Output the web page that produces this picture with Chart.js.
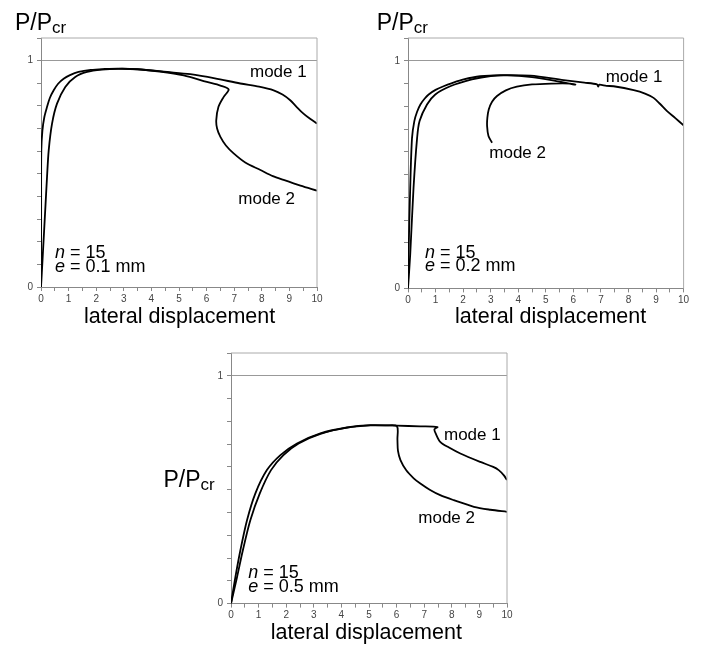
<!DOCTYPE html>
<html>
<head>
<meta charset="utf-8">
<script src="https://cdn.jsdelivr.net/npm/chart.js@4.4.1/dist/chart.umd.min.js"></script>
<style>
  body { margin: 0; background: #fff; }
  #page { position: relative; width: 704px; height: 645px; overflow: hidden;
          font-family: "Liberation Sans", Arial, sans-serif; color: #000; }
  canvas { position: absolute; }
  .t { position: absolute; white-space: nowrap; line-height: 1; }
  .t i { font-style: italic; }
</style>
</head>
<body>
<div id="page">
  <canvas id="c1"></canvas>
  <canvas id="c2"></canvas>
  <canvas id="c3"></canvas>
</div>
<script>
// e = 0.1 mm
const p1Mode1X = [0, 0.005, 0.01, 0.05, 0.12, 0.22, 0.32, 0.46, 0.62, 0.82, 1.05, 1.36, 1.8, 2.3, 2.8, 3.5, 4.57, 5.41, 6.3, 7.22, 7.9, 8.43, 8.75, 9.03, 9.25, 9.51, 9.75, 10];
const p1Mode1Y = [0, 0.3, 0.6, 0.69, 0.75, 0.796, 0.835, 0.869, 0.898, 0.92, 0.936, 0.95, 0.959, 0.963, 0.965, 0.962, 0.95, 0.94, 0.922, 0.899, 0.885, 0.869, 0.85, 0.825, 0.797, 0.766, 0.743, 0.722];
const p1Mode2X = [0, 0.03, 0.1, 0.16, 0.22, 0.28, 0.4, 0.58, 0.88, 1.24, 1.67, 2.2, 2.8, 3.5, 4.3, 5.17, 6.01, 6.5, 6.8, 6.62, 6.43, 6.35, 6.38, 6.5, 6.7, 6.98, 7.4, 7.95, 8.4, 8.79, 9.4, 10];
const p1Mode2Y = [0, 0.063, 0.22, 0.355, 0.49, 0.605, 0.722, 0.81, 0.884, 0.928, 0.95, 0.96, 0.964, 0.962, 0.952, 0.935, 0.906, 0.89, 0.873, 0.84, 0.796, 0.737, 0.7, 0.663, 0.625, 0.59, 0.55, 0.517, 0.49, 0.473, 0.448, 0.426];

// e = 0.2 mm
const p2Mode1X = [0, 0.02, 0.08, 0.145, 0.23, 0.33, 0.45, 0.6, 0.75, 1.0, 1.29, 1.6, 2.02, 2.62, 3.35, 4.44, 5.65, 6.4, 6.86, 6.9, 6.94, 7.2, 7.46, 8.19, 8.6, 8.91, 9.15, 9.4, 9.7, 10];
const p2Mode1Y = [0, 0.148, 0.44, 0.66, 0.735, 0.776, 0.808, 0.833, 0.852, 0.872, 0.888, 0.902, 0.918, 0.932, 0.937, 0.935, 0.915, 0.904, 0.896, 0.886, 0.895, 0.89, 0.888, 0.871, 0.856, 0.837, 0.81, 0.779, 0.748, 0.716];
const p2Mode2X = [0, 0.08, 0.2, 0.33, 0.42, 0.69, 0.99, 1.53, 2.32, 3.0, 3.6, 4.5, 5.3, 6.07, 5.89, 5.2, 4.5, 3.95, 3.55, 3.23, 3.05, 2.93, 2.88, 2.87, 2.92, 3.05];
const p2Mode2Y = [0, 0.148, 0.44, 0.66, 0.735, 0.808, 0.852, 0.888, 0.918, 0.933, 0.936, 0.928, 0.913, 0.895, 0.9, 0.9, 0.896, 0.886, 0.87, 0.845, 0.82, 0.786, 0.75, 0.713, 0.67, 0.64];

// e = 0.5 mm
const p3Mode1X = [0, 0.16, 0.34, 0.58, 0.88, 1.3, 1.79, 2.39, 3.24, 4.2, 5.05, 6.0, 6.86, 7.48, 7.37, 7.42, 7.58, 7.9, 8.31, 9.03, 9.5, 9.7, 9.88, 10];
const p3Mode1Y = [0, 0.117, 0.234, 0.366, 0.483, 0.586, 0.652, 0.703, 0.747, 0.773, 0.783, 0.781, 0.778, 0.775, 0.765, 0.746, 0.71, 0.685, 0.659, 0.622, 0.6, 0.586, 0.564, 0.542];
const p3Mode2X = [0, 0.22, 0.43, 0.7, 1.04, 1.45, 1.9, 2.45, 3.24, 4.2, 5.05, 5.6, 6.01, 6.03, 6.05, 6.14, 6.35, 6.62, 6.86, 7.2, 7.58, 8.07, 8.8, 9.4, 10];
const p3Mode2Y = [0, 0.117, 0.234, 0.366, 0.483, 0.586, 0.652, 0.703, 0.745, 0.772, 0.782, 0.782, 0.779, 0.72, 0.67, 0.63, 0.585, 0.55, 0.527, 0.5, 0.476, 0.454, 0.425, 0.412, 0.403];

const xTicks = [0, 1, 2, 3, 4, 5, 6, 7, 8, 9, 10];
const yTicks = [0, 1];

const pts = (xs, ys) => xs.map((x, i) => ({ x, y: ys[i] }));

// top and right edge of the box
const frame = {
  id: "frame",
  afterDraw(chart) {
    const { ctx, chartArea: a } = chart;
    ctx.save();
    ctx.strokeStyle = "#aaa";
    ctx.lineWidth = 1;
    ctx.beginPath();
    ctx.moveTo(a.left, a.top);
    ctx.lineTo(a.right, a.top);
    ctx.lineTo(a.right, a.bottom);
    ctx.stroke();
    ctx.restore();
  },
};

const near = (v, list) => list.some((t) => Math.abs(v - t) < 1e-6);
const tickFont = { family: "'Liberation Sans', Arial, sans-serif", size: 10 };

function panel(id, box, curves) {
  const [L, T, R, B] = box;
  const canvas = document.getElementById(id);
  const w = Math.ceil(R - L + 54);
  const h = Math.ceil(B - T + 32);
  canvas.width = w;
  canvas.height = h;
  canvas.style.left = L - 40 + "px";
  canvas.style.top = T - 10 + "px";

  new Chart(canvas, {
    type: "scatter",
    data: {
      datasets: curves.map((c) => ({
        data: c,
        showLine: true,
        borderColor: "#000",
        borderWidth: 1.8,
        pointRadius: 0,
        tension: 0.3,
      })),
    },
    options: {
      responsive: false,
      animation: false,
      layout: { padding: { top: 10, left: 0, right: w - 40 - (R - L), bottom: h - 10 - (B - T) - 22 } },
      plugins: { legend: { display: false }, tooltip: { enabled: false } },
      scales: {
        x: {
          type: "linear",
          min: 0,
          max: 10,
          afterFit: (s) => { s.height = 22; },
          border: { color: "#888" },
          grid: { drawOnChartArea: false, tickColor: "#888", tickLength: 4 },
          ticks: {
            stepSize: 0.5,
            autoSkip: false,
            maxRotation: 0,
            padding: 2,
            color: "#444",
            font: tickFont,
            callback: (v) => (near(v, xTicks) ? String(Math.round(v)) : ""),
          },
        },
        y: {
          min: 0,
          max: 1.1,
          afterFit: (s) => { s.width = 40; },
          border: { color: "#888" },
          grid: {
            color: (ctx) => (ctx.tick && near(ctx.tick.value, [1]) ? "#999" : "rgba(0,0,0,0)"),
            tickColor: "#888",
            tickLength: 4,
          },
          ticks: {
            stepSize: 0.1,
            autoSkip: false,
            padding: 4,
            color: "#444",
            font: tickFont,
            callback: (v) => (near(v, yTicks) ? String(Math.round(v)) : ""),
          },
        },
      },
    },
    plugins: [frame],
  });
}

panel("c1", [40.7, 38.3, 316.7, 287.3], [pts(p1Mode1X, p1Mode1Y), pts(p1Mode2X, p1Mode2Y)]);
panel("c2", [407.7, 38.3, 683.3, 288.7], [pts(p2Mode1X, p2Mode1Y), pts(p2Mode2X, p2Mode2Y)]);
panel("c3", [230.7, 352.7, 506.7, 603.3], [pts(p3Mode1X, p3Mode1Y), pts(p3Mode2X, p3Mode2Y)]);

// text, placed by baseline
const page = document.getElementById("page");
function text(html, left, baseline, size) {
  const d = document.createElement("div");
  d.className = "t";
  d.style.fontSize = size + "px";
  d.style.left = left + "px";
  d.style.top = baseline - 0.8465 * size + "px";
  d.innerHTML = html;
  page.appendChild(d);
}
const pcr = 'P/P<span style="font-size:17px;position:relative;top:3px">cr</span>';

text(pcr, 15, 30.7, 23);
text(pcr, 376.7, 30.7, 23);
text(pcr, 163.5, 487, 23);

text("lateral displacement", 84, 324, 21.5);
text("lateral displacement", 455, 324, 21.5);
text("lateral displacement", 270.7, 640, 21.5);

text("mode 1", 250, 77.7, 17);
text("mode 2", 238.3, 204, 17);
text("mode 1", 605.7, 82.3, 17);
text("mode 2", 489.3, 158.3, 17);
text("mode 1", 444, 440.3, 17);
text("mode 2", 418.3, 523.3, 17);

text("<i>n</i> = 15", 55, 258.3, 18);
text("<i>e</i> = 0.1 mm", 55, 272.7, 18);
text("<i>n</i> = 15", 425, 258.3, 18);
text("<i>e</i> = 0.2 mm", 425, 271.7, 18);
text("<i>n</i> = 15", 248.3, 578.3, 18);
text("<i>e</i> = 0.5 mm", 248.3, 592.7, 18);
</script>
</body>
</html>
